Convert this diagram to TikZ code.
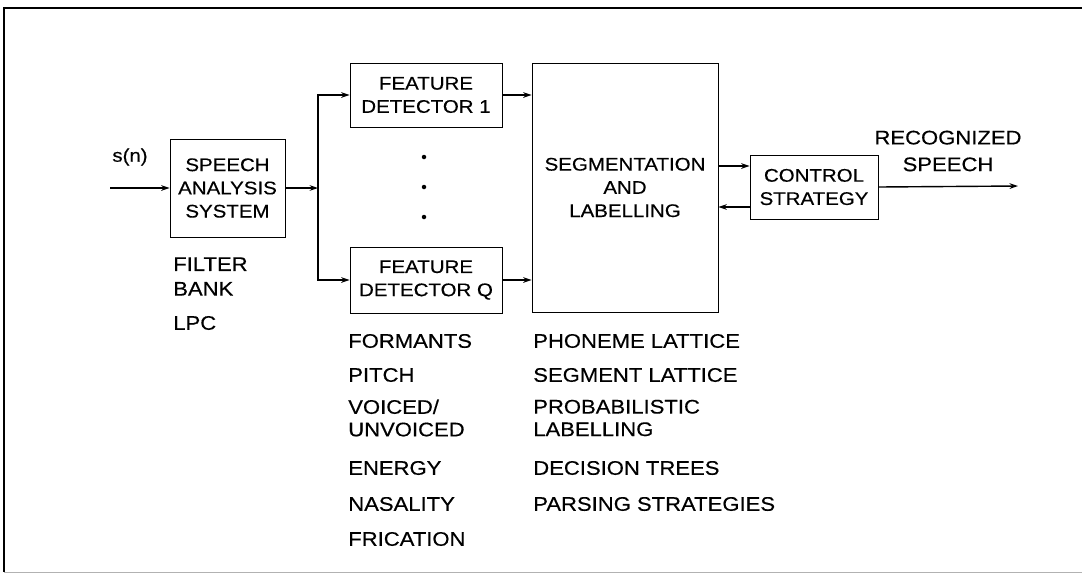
\documentclass[tikz,border=0pt]{standalone}
\usepackage{fontspec}
\setmainfont[FakeStretch=1.12, FakeBold=0.4]{Liberation Sans}
\usepackage{tikz}
\usetikzlibrary{arrows.meta}

\newcommand{\boxfont}{\fontsize{13}{16.5}\selectfont}
\newcommand{\lblfont}{\fontsize{14}{16}\selectfont}

\tikzset{
  blk/.style={draw, line width=0.5pt, align=center, inner sep=0pt, font=\boxfont},
  lbl/.style={anchor=west, align=left, inner sep=0pt, font=\lblfont},
  sig/.style={line width=1pt, -{Stealth[length=6pt,width=4pt]}},
  wire/.style={line width=1pt}
}

\begin{document}
\begin{tikzpicture}[x=0.025cm, y=-0.025cm]
\useasboundingbox (0,0) rectangle (1082,575);

% Frame
\draw[line width=0.8pt] (1082,8) -- (4,8) -- (4,572);
\draw[gray!60, line width=0.5pt] (4,572) -- (1082,572);

% Front end
\node[blk, minimum width=2.875cm, minimum height=2.45cm] (sas) at (227.5,188)
    {SPEECH\\ANALYSIS\\SYSTEM};
\node[font=\boxfont, inner sep=0pt] (sn) at (130,157) {s(n)};
\coordinate (in) at (110,188);
\coordinate (split) at (318,188);

\draw[sig] (in) -- (sas.west);
\draw[sig] (sas.east) -- (split);

% Feature detectors
\node[blk, minimum width=3.8cm, minimum height=1.6cm] (fd1) at (426,95)
    {FEATURE\\DETECTOR 1};
\node[blk, minimum width=3.8cm, minimum height=1.65cm] (fdq) at (426,280)
    {FEATURE\\DETECTOR Q};

\draw[sig] (split) |- (fd1.west);
\draw[sig] (split) |- (fdq.west);

\foreach \y in {157,187,217}
    \fill (424,\y) circle (1.6pt);

% Segmentation
\node[blk, minimum width=4.65cm, minimum height=6.225cm] (seg) at (625,187.5)
    {SEGMENTATION\\AND\\LABELLING};

\draw[sig] (fd1.east) -- (fd1.east -| seg.west);
\draw[sig] (fdq.east) -- (fdq.east -| seg.west);

% Control
\node[blk, minimum width=3.2cm, minimum height=1.6cm] (ctl) at (814,187)
    {CONTROL\\STRATEGY};

\draw[sig] (seg.east |- 0,166) -- (ctl.west |- 0,166);
\draw[sig] (ctl.west |- 0,207) -- (seg.east |- 0,207);

\coordinate (out) at (1018,186);
\draw[sig] (ctl.east) -- (out);
\node[font=\lblfont, align=center, inner sep=0pt,
      execute at begin node={\setlength{\baselineskip}{19pt}}] (rec) at (948,151)
    {RECOGNIZED\\SPEECH};

% Lists
\node[lbl, execute at begin node={\setlength{\baselineskip}{17.5pt}}] (filt) at (173,276.5)
    {FILTER\\BANK};
\node[lbl] (lpc) at (173,323) {LPC};

\node[lbl] (form) at (348,341) {FORMANTS};
\node[lbl] (pitch) at (348,375) {PITCH};
\node[lbl] (voic) at (348,418) {VOICED/\\UNVOICED};
\node[lbl] (enrg) at (348,468) {ENERGY};
\node[lbl] (nasl) at (348,504) {NASALITY};
\node[lbl] (fric) at (348,539) {FRICATION};

\node[lbl] (phon) at (533,341) {PHONEME LATTICE};
\node[lbl] (segl) at (533,375) {SEGMENT LATTICE};
\node[lbl] (prob) at (533,418) {PROBABILISTIC\\LABELLING};
\node[lbl] (dect) at (533,468) {DECISION TREES};
\node[lbl] (pars) at (533,504) {PARSING STRATEGIES};

\end{tikzpicture}
\end{document}
